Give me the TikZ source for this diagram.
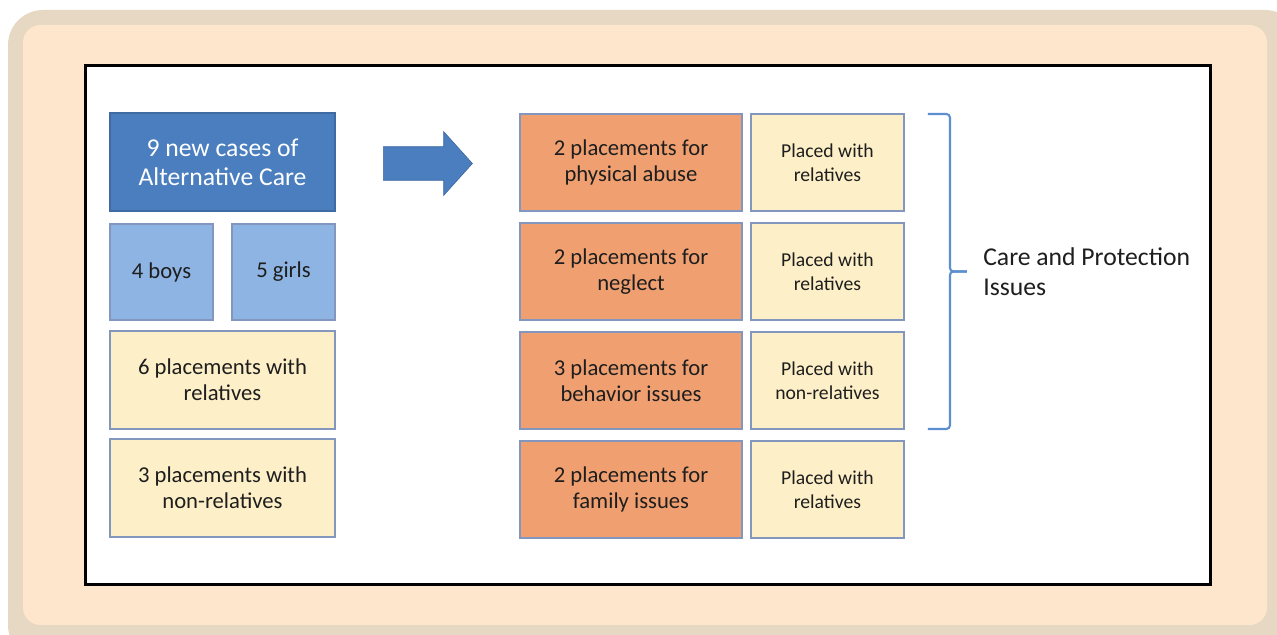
\documentclass[tikz,border=0pt]{standalone}
\usepackage{fontspec}
\setmainfont{Carlito}
\usetikzlibrary{shapes,arrows,positioning,calc}

\definecolor{frameedge}{RGB}{230,216,195}
\definecolor{framefill}{RGB}{253,230,204}
\definecolor{casesblue}{RGB}{74,126,191}
\definecolor{kidblue}{RGB}{141,180,226}
\definecolor{placeyellow}{RGB}{253,239,199}
\definecolor{issueorange}{RGB}{240,160,112}
\definecolor{boxedge}{RGB}{130,150,190}
\definecolor{braceblue}{RGB}{91,143,208}
\definecolor{textgray}{RGB}{30,30,30}

\begin{document}
\begin{tikzpicture}[x=0.02cm, y=-0.02cm, node distance=0.22cm and 0.18cm, text=textgray, font=\fontsize{12.9}{15}\selectfont]
    % Define styles
    \tikzstyle{box}=[rectangle,draw=boxedge,line width=0.8pt,inner sep=2pt,outer sep=0pt,align=center]
    \tikzstyle{casebox}=[box,fill=casesblue,draw=casesblue!85!black,text=white,minimum width=4.5cm,minimum height=1.96cm,font=\fontsize{14.6}{16.6}\selectfont]
    \tikzstyle{kidbox}=[box,fill=kidblue,minimum width=2.06cm,minimum height=1.92cm]
    \tikzstyle{placebox}=[box,fill=placeyellow,minimum width=4.5cm,minimum height=1.96cm]
    \tikzstyle{issuebox}=[box,fill=issueorange,minimum width=4.44cm,minimum height=1.94cm]
    \tikzstyle{wherebox}=[box,fill=placeyellow,minimum width=3.06cm,minimum height=1.94cm,font=\fontsize{11.2}{13.6}\selectfont]
    \tikzstyle{brace}=[draw=braceblue,line width=1.2pt,rounded corners=2pt]

    % Frame and white panel
    \clip (0,0) rectangle (1277,635);
    \fill[frameedge,rounded corners=0.7cm] (8,10) rectangle (1300,660);
    \fill[framefill,rounded corners=0.35cm] (23,25) rectangle (1267,625);
    \draw[black,line width=0.06cm,fill=white] (85,66) rectangle (1210,584);

    % Intake column
    \node [casebox] (cases) at (222.5,162) {9 new cases of\\Alternative Care};
    \node [kidbox, below=0.26cm of cases.south west, anchor=north west] (boys) {4 boys};
    \node [kidbox, below=0.26cm of cases.south east, anchor=north east] (girls) {5 girls};
    \node [placebox, below=0.22cm of boys.south west, anchor=north west] (withrel) {6 placements with\\relatives};
    \node [placebox, below=0.2cm of withrel] (nonrel) {3 placements with\\non-relatives};

    % Arrow between the columns
    \node [single arrow, fill=casesblue, draw=casesblue!85!black, minimum height=1.78cm, inner xsep=0pt, inner ysep=0.33cm, single arrow head extend=0.3cm, single arrow tip angle=96, anchor=tail] (arrow) at (383,163.5) {};

    % Reasons for placement
    \node [issuebox] (abuse) at (631,162.5) {2 placements for\\physical abuse};
    \node [issuebox, below=0.24cm of abuse] (neglect) {2 placements for\\neglect};
    \node [issuebox, below=0.24cm of neglect] (behavior) {3 placements for\\behavior issues};
    \node [issuebox, below=0.24cm of behavior] (family) {2 placements for\\family issues};

    % Where the children went
    \node [wherebox, right=of abuse] (placed1) {Placed with\\relatives};
    \node [wherebox, right=of neglect] (placed2) {Placed with\\relatives};
    \node [wherebox, right=of behavior] (placed3) {Placed with\\non-relatives};
    \node [wherebox, right=of family] (placed4) {Placed with\\relatives};

    % Brace over the first three rows
    \coordinate (bracetop) at ($(placed1.north east)+(24,0)$);
    \coordinate (bracebot) at ($(placed3.south east)+(24,0)$);
    \coordinate (bracetip) at ($(bracetop)!0.5!(bracebot)+(39,0)$);
    \draw [brace] (bracetop) -- ++(22,0) |- (bracetip);
    \draw [brace] (bracebot) -- ++(22,0) |- (bracetip);
    \node [right=0.32cm of bracetip, inner sep=0pt, align=left, font=\fontsize{14.6}{17}\selectfont] (issues) {Care and Protection\\Issues};
\end{tikzpicture}
\end{document}
